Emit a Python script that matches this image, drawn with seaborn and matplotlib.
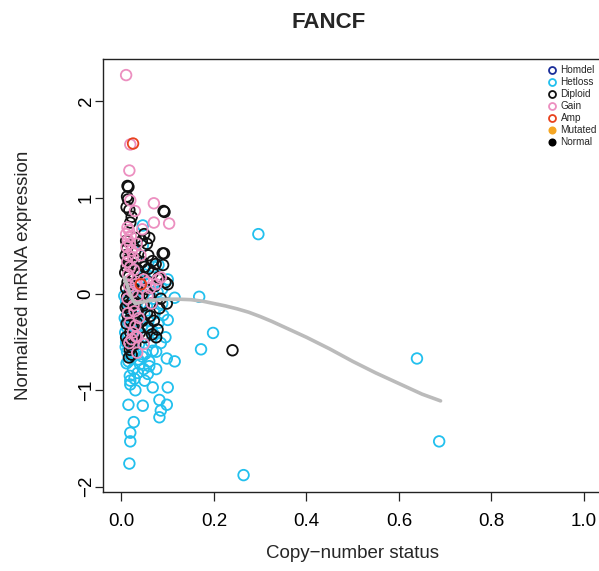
import numpy as np
import pandas as pd
import matplotlib
matplotlib.use("Agg")
import matplotlib.pyplot as plt
from matplotlib.lines import Line2D
import seaborn as sns

# ---- data: copy-number status vs normalized mRNA expression (FANCF) ----
hetloss_x = [0.296, 0.168, 0.198, 0.172, 0.639, 0.687, 0.264, 0.115, 0.100, 0.115, 0.098,
             0.0675, 0.100, 0.015, 0.046, 0.082, 0.098, 0.085, 0.082, 0.0265, 0.019, 0.019,
             0.017, 0.019, 0.019, 0.046, 0.046, 0.085, 0.0675, 0.057, 0.035, 0.025, 0.015,
             0.040, 0.028, 0.012, 0.020, 0.045, 0.060, 0.075, 0.010, 0.008, 0.014, 0.025,
             0.038, 0.052, 0.065, 0.080, 0.072, 0.090, 0.058, 0.045, 0.030, 0.012, 0.007,
             0.016, 0.010, 0.006, 0.020, 0.030, 0.042, 0.055, 0.068, 0.078, 0.088, 0.062,
             0.050, 0.070, 0.080, 0.035, 0.022, 0.040, 0.075, 0.095, 0.050, 0.030, 0.060,
             0.027, 0.043, 0.038, 0.100, 0.048, 0.013, 0.024, 0.033, 0.018, 0.009, 0.056,
             0.070, 0.088, 0.021, 0.036, 0.064, 0.011, 0.029, 0.052]
hetloss_y = [0.62, -0.03, -0.405, -0.575, -0.67, -1.53, -1.88, -0.04, -0.27, -0.70, -0.67,
             -0.97, -0.97, -1.15, -1.16, -1.10, -1.15, -1.21, -1.28, -1.33, -1.44, -1.53,
             -1.76, -0.94, -0.90, 0.71, 0.50, -0.51, -0.59, -0.83, -0.82, -0.78, -0.70,
             -0.73, -0.88, -0.60, -0.65, -0.65, -0.70, -0.78, -0.50, -0.40, -0.45, -0.55,
             -0.52, -0.45, -0.38, -0.30, -0.20, -0.22, -0.28, -0.33, -0.38, -0.35, -0.25,
             -0.15, -0.08, -0.02, 0.00, -0.05, -0.10, -0.12, -0.05, 0.02, 0.05, 0.12,
             0.20, 0.28, 0.30, 0.05, -0.20, -0.20, -0.60, -0.45, -0.90, -1.00, -0.75,
             -0.62, 0.32, 0.15, 0.15, -0.78, -0.28, -0.45, -0.58, -0.85, -0.55, -0.35,
             -0.42, -0.10, -0.32, -0.68, -0.50, -0.72, -0.15, -0.62]

diploid_x = [0.013, 0.015, 0.012, 0.014, 0.011, 0.017, 0.022, 0.019, 0.091, 0.093, 0.049,
             0.044, 0.030, 0.092, 0.067, 0.074, 0.058, 0.010, 0.012, 0.009, 0.014, 0.011,
             0.008, 0.016, 0.013, 0.010, 0.018, 0.012, 0.015, 0.009, 0.020, 0.013, 0.017,
             0.011, 0.024, 0.019, 0.030, 0.035, 0.040, 0.028, 0.045, 0.052, 0.038, 0.060,
             0.048, 0.055, 0.065, 0.072, 0.080, 0.095, 0.085, 0.062, 0.070, 0.078, 0.066,
             0.075, 0.058, 0.033, 0.027, 0.021, 0.022, 0.016, 0.029, 0.035, 0.025, 0.032,
             0.040, 0.050, 0.045, 0.240, 0.055, 0.060, 0.098, 0.100, 0.089, 0.010, 0.014,
             0.018, 0.025, 0.030, 0.040, 0.012, 0.020, 0.023, 0.045, 0.050, 0.068, 0.082,
             0.090, 0.058]
diploid_y = [1.12, 1.11, 1.01, 0.98, 0.90, 0.87, 0.80, 0.74, 0.86, 0.85, 0.62,
             0.55, 0.58, 0.42, 0.34, 0.31, 0.26, 0.55, 0.47, 0.40, 0.35, 0.28,
             0.22, 0.18, 0.12, 0.06, 0.02, -0.03, -0.08, -0.14, -0.18, -0.22, -0.27,
             -0.31, -0.35, -0.40, 0.45, 0.25, 0.12, 0.05, 0.00, 0.05, -0.05, -0.02,
             -0.12, -0.20, -0.10, 0.08, 0.17, 0.12, -0.05, -0.23, -0.28, -0.37, -0.42,
             -0.45, -0.35, -0.30, -0.25, -0.55, -0.63, -0.66, -0.10, -0.18, 0.30, 0.36,
             0.20, 0.28, 0.33, -0.585, 0.52, 0.58, -0.10, 0.10, 0.42, -0.45, -0.50,
             -0.58, -0.48, -0.52, -0.40, -0.12, 0.10, -0.08, -0.28, -0.45, 0.22, -0.15,
             0.30, 0.40]

gain_x = [0.010, 0.019, 0.017, 0.019, 0.029, 0.070, 0.070, 0.103, 0.013, 0.016, 0.010,
          0.020, 0.014, 0.018, 0.011, 0.022, 0.015, 0.025, 0.012, 0.019, 0.027, 0.014,
          0.021, 0.031, 0.017, 0.024, 0.035, 0.013, 0.048, 0.055, 0.062, 0.041, 0.045,
          0.033, 0.075, 0.085, 0.078, 0.028, 0.038, 0.030, 0.025, 0.022, 0.034, 0.014,
          0.018, 0.026, 0.065, 0.056, 0.048, 0.034, 0.017, 0.031]
gain_y = [2.27, 1.55, 1.28, 0.97, 0.86, 0.94, 0.74, 0.73, 0.69, 0.66, 0.62,
          0.60, 0.56, 0.52, 0.49, 0.45, 0.40, 0.38, 0.33, 0.28, 0.25, 0.20,
          0.15, 0.10, 0.08, 0.02, -0.02, -0.05, 0.15, 0.12, 0.06, 0.40, 0.67,
          0.52, 0.10, 0.17, 0.15, -0.18, -0.25, -0.33, -0.40, -0.47, -0.45, -0.20,
          -0.30, -0.12, -0.10, -0.02, -0.52, -0.61, -0.51, -0.44]

amp_x = [0.025, 0.042]
amp_y = [1.56, 0.10]

# smoothed trend of expression against copy-number status
fit_x = [0.006, 0.010, 0.015, 0.020, 0.025, 0.030, 0.040, 0.060, 0.080, 0.100,
         0.125, 0.150, 0.175, 0.200, 0.225, 0.250, 0.275, 0.300, 0.325, 0.350,
         0.375, 0.400, 0.425, 0.450, 0.475, 0.500, 0.525, 0.550, 0.575, 0.600,
         0.625, 0.650, 0.670, 0.690]
fit_y = [0.17, 0.12, 0.05, -0.02, -0.07, -0.10, -0.09, -0.07, -0.06, -0.055,
         -0.055, -0.06, -0.075, -0.10, -0.125, -0.155, -0.19, -0.235, -0.285, -0.34,
         -0.395, -0.45, -0.51, -0.57, -0.635, -0.70, -0.76, -0.82, -0.875, -0.93,
         -0.985, -1.04, -1.075, -1.11]

legend_labels = ["Homdel", "Hetloss", "Diploid", "Gain", "Amp", "Mutated", "Normal"]
legend_colors = ["#1A2D99", "#22C0EE", "#111111", "#EC8FC0", "#E8421E", "#F5A623", "#000000"]
legend_filled = [False, False, False, False, False, True, True]

x_ticks = [0.0, 0.2, 0.4, 0.6, 0.8, 1.0]
y_ticks = [-2, -1, 0, 1, 2]

# ---- figure ----
sns.set_style("ticks")
plt.rcParams["font.family"] = ["Liberation Sans", "DejaVu Sans"]

W, H = 599, 571
fig = plt.figure(figsize=(W / 100, H / 100), dpi=100)
ax = fig.add_axes([103 / W, (H - 491.5) / H, (602.4 - 103) / W, (491.5 - 58.7) / H])

groups = [
    (hetloss_x, hetloss_y, legend_colors[1]),
    (diploid_x, diploid_y, legend_colors[2]),
    (gain_x, gain_y, legend_colors[3]),
    (amp_x, amp_y, legend_colors[4]),
]
for gx, gy, col in groups:
    df = pd.DataFrame({"cn": gx, "expr": gy})
    sns.scatterplot(data=df, x="cn", y="expr", ax=ax, marker="o", s=58,
                    facecolor="none", edgecolor=col, linewidth=1.3, legend=False)

sns.lineplot(x=fit_x, y=fit_y, ax=ax, color="#BBBBBB", linewidth=2.6, zorder=3)

ax.set_xlim(-0.04, 1.04)
ax.set_ylim(-2.05, 2.44)
ax.set_xticks(x_ticks)
ax.set_xticklabels([f"{v:.1f}" for v in x_ticks])
ax.set_yticks(y_ticks)
ax.set_yticklabels([str(v).replace("-", "\u2212") for v in y_ticks], rotation=90, va="center")
ax.tick_params(axis="both", direction="out", length=6.5, width=0.9, colors="#222222",
               labelsize=13.5, labelcolor="black")
ax.tick_params(axis="x", pad=9)
ax.tick_params(axis="y", length=5.5, pad=0.5)
for sp in ax.spines.values():
    sp.set_visible(True)
    sp.set_linewidth(1.0)
    sp.set_color("#222222")

ax.set_xlabel("Copy\u2212number status", fontsize=13.5, labelpad=11)
ax.set_ylabel("Normalized mRNA expression", fontsize=13.5, labelpad=33)

fig.text(329 / W, 1 - 22 / H, "FANCF", ha="center", va="center",
         fontsize=16, fontweight="bold")

handles = []
for lab, col, filled in zip(legend_labels, legend_colors, legend_filled):
    handles.append(Line2D([0], [0], marker="o", linestyle="none",
                          markersize=5 if not filled else 4.5,
                          markerfacecolor=col if filled else "none",
                          markeredgecolor=col, markeredgewidth=1.3))
fig.legend(handles=handles, labels=legend_labels, loc="upper left",
           bbox_to_anchor=(548 / W, 1 - 65 / H), frameon=False, fontsize=7.2,
           handlelength=0.8, handletextpad=0.45, labelspacing=0.2, borderpad=0,
           borderaxespad=0)

fig.savefig("out.png", dpi=100)
